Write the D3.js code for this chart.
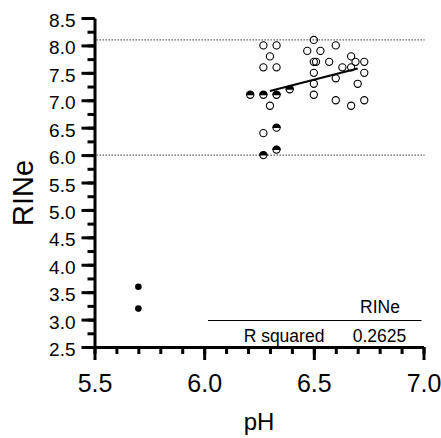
<!DOCTYPE html>
<html>
<head>
<meta charset="utf-8">
<script src="https://cdn.jsdelivr.net/npm/d3@7"></script>
<style>
  body { margin: 0; background: #fff; }
  svg text { font-family: "Liberation Sans", Arial, Helvetica, sans-serif; fill: #000; }
</style>
</head>
<body>
<div id="chart"></div>
<script>
// open circles
const openPH = [6.27, 6.33, 6.50, 6.60, 6.30, 6.47, 6.53, 6.67, 6.27, 6.33,
  6.50, 6.51, 6.57, 6.69, 6.73, 6.63, 6.67, 6.50, 6.73, 6.60,
  6.50, 6.70, 6.50, 6.60, 6.67, 6.73, 6.30, 6.27];
const openRIN = [8.0, 8.0, 8.1, 8.0, 7.8, 7.9, 7.9, 7.8, 7.6, 7.6,
  7.7, 7.7, 7.7, 7.7, 7.7, 7.6, 7.6, 7.5, 7.5, 7.4,
  7.3, 7.3, 7.1, 7.0, 6.9, 7.0, 6.9, 6.4];

// half filled circles
const halfPH = [6.39, 6.21, 6.27, 6.33, 6.33, 6.33, 6.27];
const halfRIN = [7.2, 7.1, 7.1, 7.1, 6.5, 6.1, 6.0];

// filled circles
const solidPH = [5.70, 5.70];
const solidRIN = [3.6, 3.2];

// reference lines and fitted line
const refLines = [8.1, 6.0];
const fitPH = [6.30, 6.70];
const fitRIN = [7.17, 7.58];

const xTicks = [5.5, 6.0, 6.5, 7.0];
const yTicks = [2.5, 3.0, 3.5, 4.0, 4.5, 5.0, 5.5, 6.0, 6.5, 7.0, 7.5, 8.0, 8.5];

const legendHeader = 'RINe';
const legendRow = 'R squared';
const rSquared = '0.2625';

const width = 441;
const height = 438;

const svg = d3.select('#chart')
  .append('svg')
  .attr('width', width)
  .attr('height', height);

const x = d3.scaleLinear().domain([5.5, 7.0]).range([94.5, 423.5]);
const y = d3.scaleLinear().domain([2.5, 8.5]).range([347, 18]);

// dotted reference lines
svg.selectAll('line.ref')
  .data(refLines)
  .enter()
  .append('line')
  .attr('class', 'ref')
  .attr('x1', x(5.5) + 2)
  .attr('x2', x(7.0) + 1)
  .attr('y1', d => y(d))
  .attr('y2', d => y(d))
  .attr('stroke', '#444')
  .attr('stroke-width', 1.2)
  .attr('stroke-dasharray', '1.3,1.7');

// minor ticks
const xMinor = d3.range(5.5, 7.001, 0.1).map(d => +d.toFixed(1));
const yMinor = d3.range(2.5, 8.501, 0.25).map(d => +d.toFixed(2));

svg.append('g')
  .attr('transform', `translate(0,${y(2.5)})`)
  .call(d3.axisBottom(x).tickValues(xMinor).tickSize(7).tickFormat(''))
  .call(g => g.select('.domain').remove())
  .selectAll('line').attr('stroke-width', 3);

svg.append('g')
  .attr('transform', `translate(${x(5.5)},0)`)
  .call(d3.axisLeft(y).tickValues(yMinor).tickSize(7).tickFormat(''))
  .call(g => g.select('.domain').remove())
  .selectAll('line').attr('stroke-width', 3);

// major axes
const xAxis = svg.append('g')
  .attr('transform', `translate(0,${y(2.5)})`)
  .call(d3.axisBottom(x).tickValues(xTicks).tickSize(13).tickSizeOuter(0).tickFormat(d3.format('.1f')));
xAxis.select('.domain').attr('stroke-width', 3);
xAxis.selectAll('line').attr('stroke-width', 3);
xAxis.selectAll('text')
  .attr('y', 45)
  .attr('dy', 0)
  .style('font-size', '25px');

const yAxis = svg.append('g')
  .attr('transform', `translate(${x(5.5)},0)`)
  .call(d3.axisLeft(y).tickValues(yTicks).tickSize(13).tickSizeOuter(0).tickPadding(6).tickFormat(d3.format('.1f')));
yAxis.select('.domain').attr('stroke-width', 3);
yAxis.selectAll('line').attr('stroke-width', 3);
yAxis.selectAll('text')
  .attr('dy', '0.45em')
  .style('font-size', '19px');

// fitted line
svg.append('path')
  .datum(d3.zip(fitPH, fitRIN))
  .attr('d', d3.line().x(d => x(d[0])).y(d => y(d[1])))
  .attr('stroke', '#000')
  .attr('stroke-width', 2)
  .attr('fill', 'none');

// open circles
svg.selectAll('circle.open')
  .data(d3.zip(openPH, openRIN))
  .enter()
  .append('circle')
  .attr('class', 'open')
  .attr('cx', d => x(d[0]))
  .attr('cy', d => y(d[1]))
  .attr('r', 3.6)
  .attr('fill', 'none')
  .attr('stroke', '#000')
  .attr('stroke-width', 1.1);

// half filled circles (top half black)
const half = svg.selectAll('g.half')
  .data(d3.zip(halfPH, halfRIN))
  .enter()
  .append('g')
  .attr('class', 'half')
  .attr('transform', d => `translate(${x(d[0])},${y(d[1])})`);
half.append('circle')
  .attr('r', 3.6)
  .attr('fill', '#fff')
  .attr('stroke', '#000')
  .attr('stroke-width', 1.1);
half.append('path')
  .attr('d', 'M-4.15,0.4 A4.15,4.15 0 0 1 4.15,0.4 Z')
  .attr('fill', '#000');

// filled circles
svg.selectAll('circle.solid')
  .data(d3.zip(solidPH, solidRIN))
  .enter()
  .append('circle')
  .attr('class', 'solid')
  .attr('cx', d => x(d[0]))
  .attr('cy', d => y(d[1]))
  .attr('r', 3.3)
  .attr('fill', '#000');

// results table
svg.append('text')
  .attr('x', 380)
  .attr('y', 313)
  .attr('text-anchor', 'middle')
  .style('font-size', '17.5px')
  .text(legendHeader);
svg.append('line')
  .attr('x1', 208)
  .attr('x2', 421.5)
  .attr('y1', 320.5)
  .attr('y2', 320.5)
  .attr('stroke', '#000')
  .attr('stroke-width', 1.2);
svg.append('text')
  .attr('x', 284)
  .attr('y', 341.5)
  .attr('text-anchor', 'middle')
  .style('font-size', '17.5px')
  .text(legendRow);
svg.append('text')
  .attr('x', 379.5)
  .attr('y', 341.5)
  .attr('text-anchor', 'middle')
  .style('font-size', '17.5px')
  .text(rSquared);

// axis titles
svg.append('text')
  .attr('transform', 'translate(33,193) rotate(-90)')
  .attr('text-anchor', 'middle')
  .style('font-size', '29px')
  .text('RINe');

svg.append('text')
  .attr('x', 259)
  .attr('y', 430)
  .attr('text-anchor', 'middle')
  .style('font-size', '24px')
  .text('pH');
</script>
</body>
</html>
